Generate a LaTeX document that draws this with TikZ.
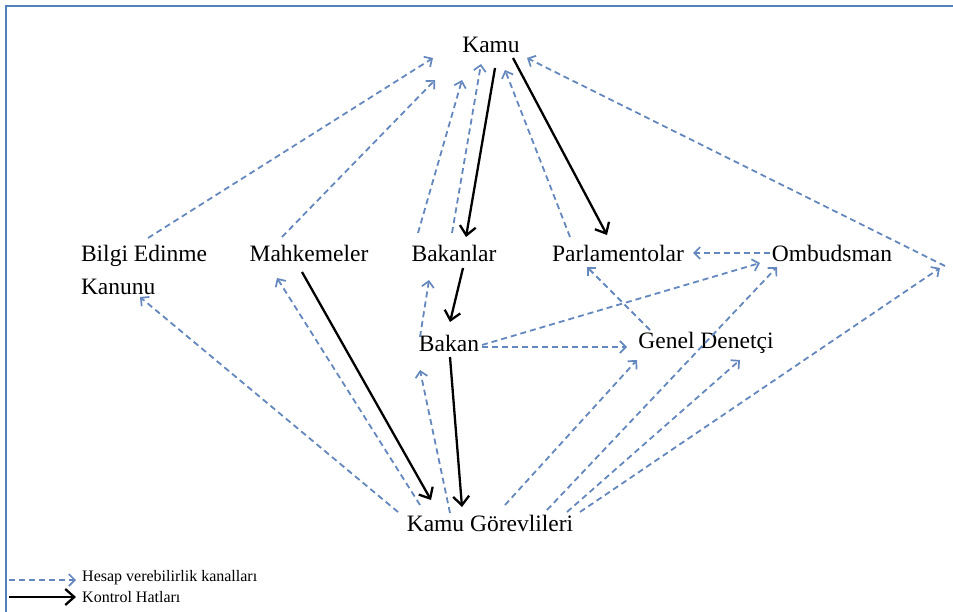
\documentclass[tikz,border=0pt]{standalone}
\usepackage{fontspec}
\setmainfont{Liberation Serif}
\usetikzlibrary{arrows.meta,calc}
\definecolor{frameblue}{RGB}{79,129,189}
\definecolor{accblue}{RGB}{100,135,190}
\tikzset{
  lbl/.style={inner sep=0pt, font=\fontsize{23.5}{33}\selectfont, text=black},
  acc/.style={draw=accblue, line width=1.8pt, dash pattern=on 6pt off 4pt, -{Straight Barb[length=6pt,width=12pt,line width=1.7pt]}},
  ctl/.style={draw=black, line width=2.3pt, -{Straight Barb[length=9pt,width=16pt,line width=2.3pt]}},
}
\begin{document}
\begin{tikzpicture}[x=1pt,y=-1pt]
\useasboundingbox (0,0) rectangle (953,612);
\draw[frameblue, line width=2.5pt] (6,640) -- (6,6) -- (960,6);

\node[lbl] (kamu) at (491,45) {Kamu};
\node[lbl, align=left] (bilgi) at (144,270) {Bilgi Edinme\\Kanunu};
\node[lbl] (mahk) at (309,253) {Mahkemeler};
\node[lbl] (bakanlar) at (454,253) {Bakanlar};
\node[lbl] (parl) at (618,253) {Parlamentolar};
\node[lbl] (omb) at (832,253) {Ombudsman};
\node[lbl] (bakan) at (449,343) {Bakan};
\node[lbl] (gd) at (706,343) {Genel Denetçi};
\node[lbl] (kg) at (490,523) {Kamu Görevlileri};
\coordinate (rp) at (945,266);

% accountability channels (dashed)
\draw[acc] ($(bilgi)+(4,-32)$) -- ($(kamu)+(-58,13)$);
\draw[acc] ($(mahk)+(-27,-16)$) -- ($(kamu)+(-56,35)$);
\draw[acc] ($(bakanlar)+(-36,-20)$) -- ($(kamu)+(-29,35)$);
\draw[acc] ($(bakanlar)+(-2,-20)$) -- ($(kamu)+(-10,19)$);
\draw[acc] ($(parl)+(-48,-16)$) -- ($(kamu)+(14,25)$);
\draw[acc] (rp) -- ($(kamu)+(36,13)$);
\draw[acc] ($(omb)+(-62,0)$) -- ($(parl)+(75,0)$);
\draw[acc] ($(bakan)+(33,2)$) -- ($(omb)+(-72,10)$);
\draw[acc] ($(bakan)+(33,4)$) -- ($(gd)+(-79,4)$);
\draw[acc] ($(gd)+(-56,-13)$) -- ($(parl)+(-31,14)$);
\draw[acc] ($(kg)+(-92,-11)$) -- ($(bilgi)+(-4,27)$);
\draw[acc] ($(kg)+(-70,-18)$) -- ($(mahk)+(-32,25)$);
\draw[acc] ($(bakan)+(-29,-6)$) -- ($(bakanlar)+(-25,27)$);
\draw[acc] ($(kg)+(-40,-10)$) -- ($(bakan)+(-29,27)$);
\draw[acc] ($(kg)+(15,-18)$) -- ($(gd)+(-69,17)$);
\draw[acc] ($(kg)+(57,-13)$) -- ($(omb)+(-55,14)$);
\draw[acc] ($(kg)+(77,-11)$) -- ($(gd)+(34,17)$);
\draw[acc] ($(kg)+(90,-11)$) -- ($(rp)+(-5,2)$);

% control lines (solid)
\draw[ctl] ($(kamu)+(4,23)$) -- ($(bakanlar)+(12,-16)$);
\draw[ctl] ($(kamu)+(22,13)$) -- ($(parl)+(-11,-18)$);
\draw[ctl] ($(bakanlar)+(9,15)$) -- ($(bakan)+(1,-21)$);
\draw[ctl] ($(mahk)+(-7,19)$) -- ($(kg)+(-59,-23)$);
\draw[ctl] ($(bakan)+(1,14)$) -- ($(kg)+(-28,-16)$);

% legend
\node[inner sep=0pt, anchor=west, font=\fontsize{16}{18}\selectfont, text=black] (leg1) at (82,578) {Hesap verebilirlik kanalları};
\node[inner sep=0pt, anchor=west, font=\fontsize{16}{18}\selectfont, text=black] (leg2) at (82,597) {Kontrol Hatları};
\coordinate (l1) at (9,580);
\coordinate (l2) at (9,597);
\draw[acc] (l1) -- ($(leg1.west)+(-6,2)$);
\draw[ctl] (l2) -- ($(leg2.west)+(-6,0)$);
\end{tikzpicture}
\end{document}
